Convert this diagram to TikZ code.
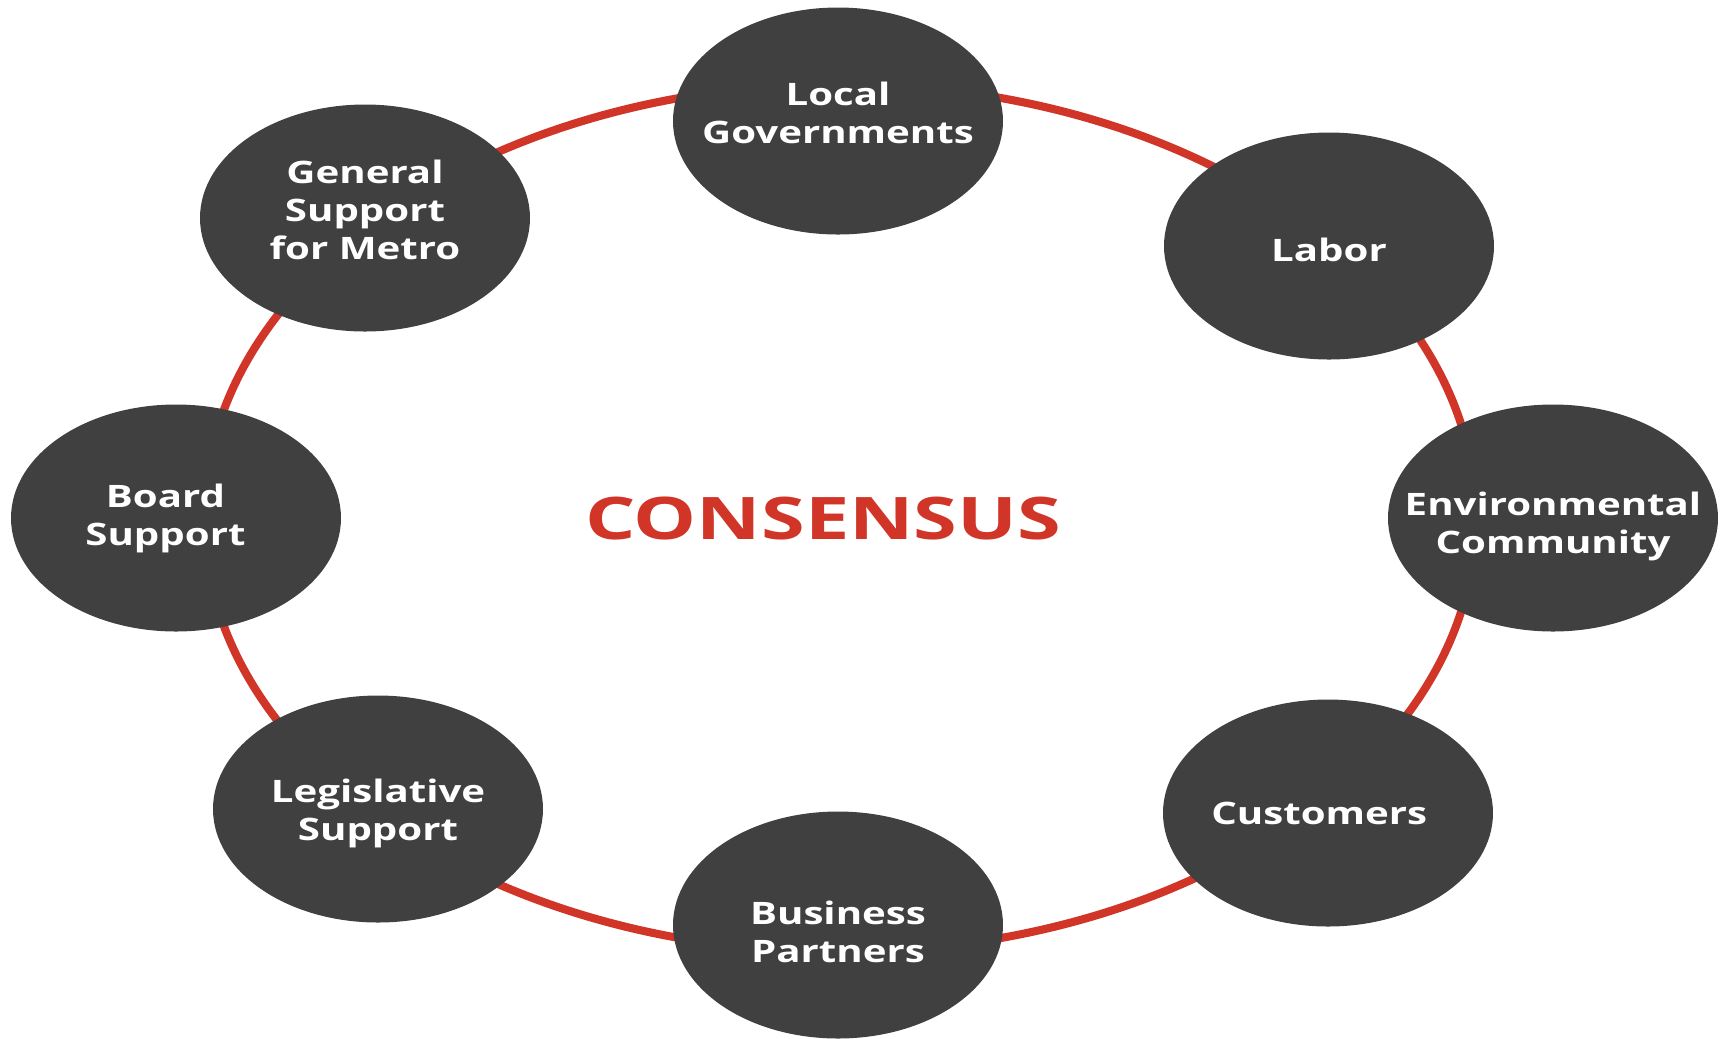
\documentclass[tikz,border=0pt]{standalone}
\usepackage{fontspec}
\newfontfamily\labelfont[FakeStretch=1.3]{Open Sans}
\newfontfamily\titlefont[FakeStretch=1.35]{Open Sans}
\usepackage{tikz}
\usetikzlibrary{shapes.geometric}
\pgfdeclarelayer{edgelayer}
\pgfdeclarelayer{nodelayer}
\pgfsetlayers{edgelayer,nodelayer,main}
\definecolor{partygrey}{RGB}{64,64,64}
\definecolor{consensusred}{RGB}{208,53,40}
\newcommand{\lift}[1]{\rule[-#1]{0pt}{0pt}}
\newcommand{\drop}[1]{\rule{0pt}{#1}}
\tikzstyle{none}=[inner sep=0pt]
\tikzstyle{party}=[ellipse,fill=partygrey,draw=none,minimum width=3.3cm,minimum height=2.27cm,inner xsep=-10pt,inner ysep=0pt,text=white,align=center,font=\labelfont\bfseries\fontsize{8.8}{10.8}\selectfont]
\tikzstyle{title}=[inner sep=0pt,text=consensusred,font=\titlefont\bfseries\fontsize{16.7}{20}\selectfont]
\tikzstyle{ring}=[draw=consensusred,line width=2.3pt]

\begin{document}
\begin{tikzpicture}
	\useasboundingbox (0, 0) rectangle (17.25, -10.38);
	\begin{pgfonlayer}{nodelayer}
		\node [style=party] (0) at (8.38, -1.21) {Local\\Governments\lift{4.6pt}};
		\node [style=party] (1) at (13.29, -2.46) {\drop{9.1pt}Labor};
		\node [style=party] (2) at (15.53, -5.18) {\drop{11.7pt}Environmental\\Community};
		\node [style=party] (3) at (13.28, -8.13) {Customers\hspace*{5pt}};
		\node [style=party] (4) at (8.38, -9.25) {\drop{10.6pt}Business\\Partners};
		\node [style=party] (5) at (3.78, -8.09) {\drop{9.1pt}Legislative\\Support};
		\node [style=party] (6) at (1.76, -5.18) {Board\hspace*{6pt}\\Support\hspace*{6pt}};
		\node [style=party] (7) at (3.65, -2.18) {General\\Support\\for Metro\lift{4.6pt}};
		\node [style=title] (8) at (8.23, -5.18) {CONSENSUS};
		\coordinate (9) at (8.40, -5.18);
	\end{pgfonlayer}
	\begin{pgfonlayer}{edgelayer}
		\draw [style=ring] (9) ellipse (6.36 and 4.34);
	\end{pgfonlayer}
\end{tikzpicture}
\end{document}
